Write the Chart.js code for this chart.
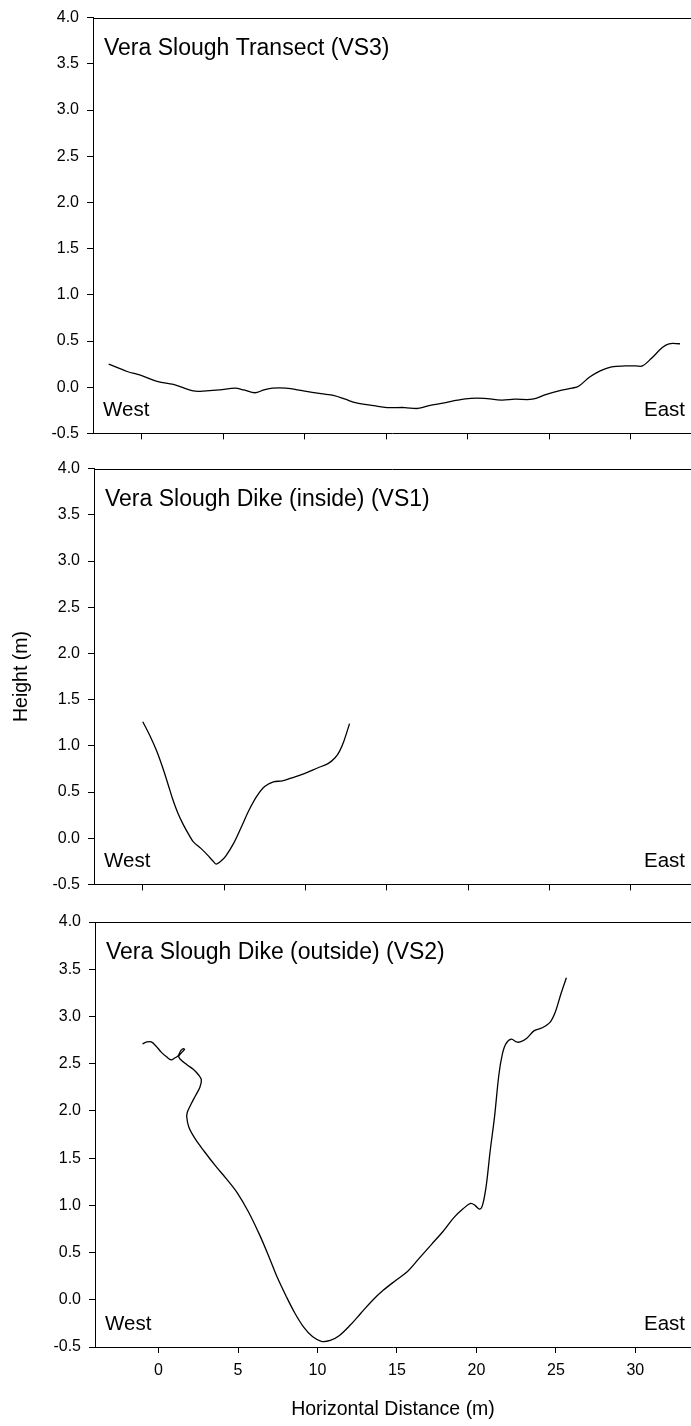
<!DOCTYPE html>
<html>
<head>
<meta charset="utf-8">
<title>Vera Slough profiles</title>
<script src="https://cdn.jsdelivr.net/npm/chart.js@4.4.1/dist/chart.umd.min.js"></script>
<style>
html, body { margin: 0; padding: 0; background: #fff; }
body { width: 691px; height: 1426px; position: relative; overflow: hidden; }
canvas { position: absolute; left: 0; }
</style>
</head>
<body>
<canvas id="vs3Chart" width="691" height="451" style="top:0px"></canvas>
<canvas id="vs1Chart" width="691" height="451" style="top:451px"></canvas>
<canvas id="vs2Chart" width="691" height="524" style="top:902px"></canvas>
<script>
// Tick values
var xTicks = [0, 5, 10, 15, 20, 25, 30];
var yTicks = [-0.5, 0, 0.5, 1, 1.5, 2, 2.5, 3, 3.5, 4];

// Vera Slough Transect (VS3)
var vs3X = [-2.04, -0.90, -0.09, 0.99, 1.94, 3.15, 3.96, 4.77, 5.72, 6.26, 6.94, 7.48, 8.02, 8.83, 9.91,
            10.99, 11.81, 12.48, 13.16, 14.24, 15.05, 16.13, 16.94, 17.62, 18.56, 19.37, 20.18, 20.99,
            22.07, 22.88, 23.97, 24.78, 25.59, 26.40, 26.80, 27.48, 28.16, 28.83, 29.64, 30.32, 30.72,
            31.26, 31.94, 32.35, 33.02];
var vs3Y = [0.25, 0.17, 0.13, 0.06, 0.03, -0.04, -0.04, -0.03, -0.01, -0.03, -0.06, -0.03, -0.01, -0.01, -0.04,
            -0.07, -0.09, -0.13, -0.17, -0.20, -0.22, -0.22, -0.23, -0.20, -0.17, -0.14, -0.12, -0.12,
            -0.14, -0.13, -0.13, -0.08, -0.04, -0.01, 0.01, 0.11, 0.18, 0.22, 0.23, 0.23, 0.23,
            0.31, 0.43, 0.47, 0.47];

// Vera Slough Dike (inside) (VS1)
var vs1X = [0.00, 0.46, 0.86, 1.21, 1.54, 1.86, 2.16, 2.48, 2.89, 3.11, 3.57, 3.97, 4.33, 4.52, 4.79,
            5.11, 5.60, 6.08, 6.55, 7.03, 7.49, 8.03, 8.58, 9.12, 9.93, 10.74, 11.41, 11.82, 12.09,
            12.36, 12.71];
var vs1Y = [1.26, 1.10, 0.94, 0.77, 0.59, 0.41, 0.27, 0.15, 0.02, -0.04, -0.11, -0.18, -0.25, -0.28, -0.25,
            -0.19, -0.05, 0.13, 0.31, 0.46, 0.56, 0.61, 0.62, 0.65, 0.70, 0.76, 0.81, 0.87, 0.94,
            1.05, 1.24];

// Vera Slough Dike (outside) (VS2)
var vs2X = [-1.01, -0.74, -0.46, -0.18, 0.18, 0.52, 0.79, 1.02, 1.21, 1.41, 1.57, 1.63, 1.46, 1.27,
            1.35, 1.77, 2.18, 2.52, 2.69, 2.60, 2.32, 2.04, 1.82, 1.77, 1.90, 2.32, 2.88, 3.57, 4.27,
            4.96, 5.66, 6.35, 6.91, 7.46, 8.02, 8.57, 9.13, 9.68, 10.24, 10.80, 11.36, 12.05, 12.74,
            13.44, 14.13, 14.96, 15.66, 16.35, 17.19, 17.88, 18.58, 19.14, 19.63, 19.91, 20.19, 20.38,
            20.61, 20.86, 21.14, 21.41, 21.63, 21.85, 22.19, 22.52, 22.75, 23.17, 23.64, 24.14, 24.64,
            24.97, 25.30, 25.66];
var vs2Y = [2.71, 2.73, 2.73, 2.69, 2.62, 2.57, 2.54, 2.56, 2.58, 2.64, 2.66, 2.65, 2.62, 2.58,
            2.55, 2.49, 2.44, 2.38, 2.33, 2.25, 2.16, 2.07, 1.99, 1.94, 1.83, 1.70, 1.57, 1.42, 1.28,
            1.13, 0.93, 0.69, 0.47, 0.24, 0.04, -0.14, -0.29, -0.39, -0.44, -0.43, -0.38, -0.27, -0.14,
            -0.01, 0.10, 0.21, 0.30, 0.43, 0.59, 0.72, 0.87, 0.96, 1.02, 1.00, 0.96, 1.00,
            1.20, 1.57, 1.94, 2.38, 2.60, 2.71, 2.76, 2.73, 2.73, 2.77, 2.85, 2.88, 2.94,
            3.05, 3.23, 3.41];

var FONT = 'Arial, "Liberation Sans", sans-serif';

function toPoints(xs, ys){
    var pts = [];
    for (var i = 0; i < xs.length; i++) pts.push({x: xs[i], y: ys[i]});
    return pts;
}

// panel frame top + text labels
var panelText = {
    id: 'panelText',
    afterDraw: function(chart){
        var ctx = chart.ctx;
        var a = chart.chartArea;
        var o = chart.options.plugins.panelText;
        ctx.save();
        ctx.strokeStyle = '#000';
        ctx.lineWidth = 1;
        ctx.beginPath();
        ctx.moveTo(a.left, Math.round(a.top) + 0.5);
        ctx.lineTo(a.right, Math.round(a.top) + 0.5);
        ctx.stroke();

        ctx.fillStyle = '#000';
        ctx.textBaseline = 'alphabetic';
        ctx.textAlign = 'left';
        ctx.font = '23px ' + FONT;
        ctx.fillText(o.title, a.left + 11, a.top + 37);
        ctx.font = '20.5px ' + FONT;
        ctx.fillText('West', a.left + 10, a.bottom - 17.5);
        ctx.textAlign = 'right';
        ctx.fillText('East', a.right - 6, a.bottom - 17.5);
        ctx.restore();
    }
};

function makePanel(id, xs, ys, o){
    var ctx = document.getElementById(id).getContext('2d');
    return new Chart(ctx, {
        type: 'scatter',
        data: {
            datasets: [{
                data: toPoints(xs, ys),
                showLine: true,
                borderColor: '#000',
                borderWidth: 1.3,
                pointRadius: 0,
                tension: 0.35,
                fill: false
            }]
        },
        options: {
            responsive: false,
            animation: false,
            devicePixelRatio: 1,
            layout: { padding: { top: o.padTop, right: 0, bottom: 0, left: 0 } },
            plugins: {
                legend: { display: false },
                tooltip: { enabled: false },
                panelText: { title: o.title }
            },
            scales: {
                x: {
                    type: 'linear',
                    min: o.xMin,
                    max: o.xMax,
                    afterBuildTicks: function(s){ s.ticks = xTicks.map(function(v){ return {value: v}; }); },
                    afterFit: function(s){ s.height = o.xHeight; },
                    grid: { drawOnChartArea: false, drawTicks: true, tickLength: 6, color: '#000', lineWidth: 1 },
                    border: { display: true, color: '#000', width: 1 },
                    ticks: {
                        display: o.xLabels,
                        color: '#000',
                        font: { family: FONT, size: 16 },
                        padding: 8,
                        maxRotation: 0,
                        autoSkip: false
                    },
                    title: {
                        display: o.xLabels,
                        text: 'Horizontal Distance (m)',
                        color: '#000',
                        font: { family: FONT, size: 19.5 },
                        padding: { top: 0, bottom: 5 }
                    }
                },
                y: {
                    type: 'linear',
                    min: -0.5,
                    max: 4,
                    afterBuildTicks: function(s){ s.ticks = yTicks.map(function(v){ return {value: v}; }); },
                    afterFit: function(s){ s.width = o.yWidth; },
                    grid: { drawOnChartArea: false, drawTicks: true, tickLength: 6, color: '#000', lineWidth: 1 },
                    border: { display: true, color: '#000', width: 1 },
                    ticks: {
                        color: '#000',
                        font: { family: FONT, size: 16 },
                        padding: 8,
                        callback: function(v){ return Number(v).toFixed(1); }
                    },
                    title: {
                        display: o.yTitle,
                        text: 'Height (m)',
                        color: '#000',
                        font: { family: FONT, size: 19.5 },
                        padding: { top: 10, bottom: 0 }
                    }
                }
            }
        },
        plugins: [panelText]
    });
}

makePanel('vs3Chart', vs3X, vs3Y, {
    title: 'Vera Slough Transect (VS3)',
    padTop: 15, xHeight: 11, yWidth: 93, xMin: -3, xMax: 33.7, xLabels: false, yTitle: false
});
makePanel('vs1Chart', vs1X, vs1Y, {
    title: 'Vera Slough Dike (inside) (VS1)',
    padTop: 11, xHeight: 16, yWidth: 94, xMin: -3, xMax: 33.7, xLabels: false, yTitle: true
});
makePanel('vs2Chart', vs2X, vs2Y, {
    title: 'Vera Slough Dike (outside) (VS2)',
    padTop: 20, xHeight: 79, yWidth: 95, xMin: -4, xMax: 33.5, xLabels: true, yTitle: false
});
</script>
</body>
</html>
